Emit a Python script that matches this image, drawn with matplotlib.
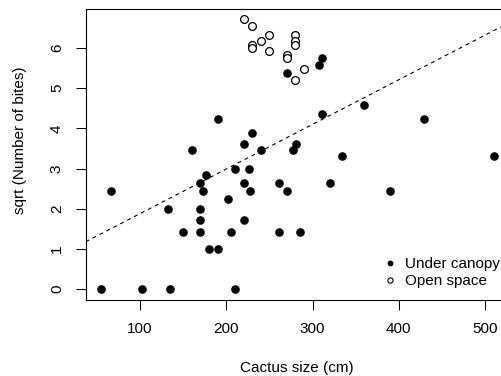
import numpy as np
import matplotlib
matplotlib.use('Agg')
import matplotlib.pyplot as plt
from matplotlib.lines import Line2D

plt.rcParams['font.family'] = ['Liberation Sans', 'DejaVu Sans']

# under canopy (filled points)
size_under = [55, 102, 135, 210, 66, 132, 150, 170, 170, 170, 170, 173, 176,
              180, 190, 202, 206, 220, 220, 228, 210, 226, 160, 190, 221, 230,
              240, 261, 270, 261, 285, 277, 281, 270, 307, 311, 311, 360, 429,
              510, 334, 320, 390]
bites_under = [0, 0, 0, 0, 6, 4, 2, 4, 3, 2, 7, 6, 8,
               1, 1, 5, 2, 3, 7, 6, 9, 9, 12, 18, 13, 15,
               12, 7, 6, 2, 2, 12, 13, 29, 31, 33, 19, 21, 18,
               11, 11, 7, 6]

# open space (open circles)
size_open = [220, 230, 230, 230, 240, 250, 250, 270, 270, 280, 280, 280, 280, 290]
bites_open = [45, 43, 37, 36, 38, 40, 35, 34, 33, 40, 38, 37, 27, 30]

# fitted line
fit_intercept = 0.77
fit_slope = 0.0111

legend_labels = ['Under canopy', 'Open space']

fig = plt.figure(figsize=(5.01, 3.76), dpi=100)
W, H = 501, 376
ax = fig.add_axes([85.7 / W, 1 - 300 / H, (511 - 85.7) / W, (300 - 8.7) / H])

ax.plot(size_under, np.sqrt(bites_under), 'o', color='black', ms=6.2, mew=0)
ax.plot(size_open, np.sqrt(bites_open), 'o', mfc='white', mec='black',
        ms=5.6, mew=0.9)
ax.axline((0, fit_intercept), slope=fit_slope, color='black', lw=0.8,
          ls=(0, (3.5, 3.5)))

ax.set_xlim(37, 530)
ax.set_ylim(-0.268, 6.976)
ax.set_xticks([100, 200, 300, 400, 500])
ax.set_yticks([0, 1, 2, 3, 4, 5, 6])
for lab in ax.get_yticklabels():
    lab.set_rotation(90)
    lab.set_va('center')
ax.tick_params(direction='out', length=7.2, width=0.75, labelsize=11, pad=8.5)
for s in ax.spines.values():
    s.set_linewidth(0.8)

fig.text(297 / W, 1 - 367.7 / H, 'Cactus size (cm)', ha='center', va='center',
         fontsize=11)
fig.text(20 / W, 1 - 140 / H, 'sqrt (Number of bites)', ha='center',
         va='center', rotation=90, fontsize=11)

handles = [Line2D([], [], ls='none', marker='o', color='black', ms=4.2, mew=0),
           Line2D([], [], ls='none', marker='o', mfc='white', mec='black',
                  ms=3.8, mew=0.8)]
fig.legend(handles, legend_labels, loc='upper left',
           bbox_to_anchor=(384 / W, 1 - 257 / H), frameon=False,
           fontsize=11, handlelength=0.8, handletextpad=0.6,
           labelspacing=0.2, borderpad=0, borderaxespad=0)

plt.savefig('out.png', dpi=100)
plt.close()
